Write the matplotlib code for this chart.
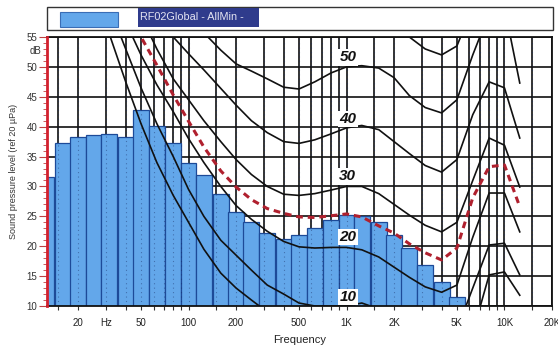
import matplotlib
matplotlib.use("Agg")
import matplotlib.pyplot as plt
from matplotlib.patches import Rectangle

plt.rcParams['font.family'] = ['Liberation Sans Narrow', 'Liberation Sans', 'DejaVu Sans']

# 1/3-octave band spectrum (dB re 20 uPa)
band_centres = [12.5, 16, 20, 25, 31.5, 40, 50, 63, 80, 100, 125, 160, 200, 250,
                315, 400, 500, 630, 800, 1000, 1250, 1600, 2000, 2500, 3150, 4000, 5000]
band_levels = [31.6, 37.3, 38.3, 38.6, 38.8, 38.2, 42.8, 40.1, 37.3, 34.0, 31.9, 28.7,
               25.8, 24.1, 22.2, 21.2, 21.9, 23.0, 24.4, 25.2, 25.0, 24.0, 21.9, 19.7,
               16.9, 14.0, 11.5]

# equal-loudness contours, sampled at 1/3-octave centres
contour_freqs = [12.5, 16, 20, 25, 31.5, 40, 50, 63, 80, 100, 125, 160, 200, 250, 315,
                 400, 500, 630, 800, 1000, 1250, 1600, 2000, 2500, 3150, 4000, 5000,
                 6300, 8000, 10000, 12500]
threshold = [88, 78, 70, 62, 55.5, 47.5, 40.5, 34, 28.5, 24, 19.5, 15.5, 13, 11, 9,
             7.5, 6.5, 5.5, 5, 4.5, 4.5, 3.5, 0.5, -3, -6, -7.5, -2.5, 5.5, 15.2, 15.7, 11.8]
phon_10 = [95, 85, 76, 68, 60, 53, 46.5, 40.5, 35, 29.5, 25, 21, 18.5, 16, 13.5, 12,
           10.5, 10, 10, 10, 10.5, 9.5, 7, 4, 2, 2, 6, 13, 20.2, 20.5, 15.2]
phon_20 = [100, 90, 82, 73, 65, 57.5, 52, 47, 42.5, 38, 34, 30, 26.8, 24.5, 22.5, 20.8,
           19.9, 19.7, 19.8, 19.8, 19.4, 18.2, 16.5, 14.8, 13.2, 12.3, 13.5, 21.5, 28.9,
           28.9, 22.4]
phon_25 = [82, 77.5, 73, 68.5, 64, 59.4, 55, 50.3, 45.3, 40.9, 36.6, 32.6, 29.9, 27.8,
           26.3, 25.5, 24.9, 24.8, 25.1, 25.4, 24.9, 23.4, 22.2, 20.4, 18.9, 17.7, 19.7,
           28.1, 33.3, 33.6, 26.6]
phon_30 = [105, 96, 88, 80, 72, 65, 58.5, 53, 48, 44.5, 41, 37.5, 34.5, 32, 30, 28.7,
           28.5, 28.8, 29.4, 30, 30, 28.8, 27, 25.2, 23.5, 22.4, 24, 31, 38.1, 36.9, 29.9]
phon_40 = [100, 90, 80, 72, 67, 63, 60, 57.5, 55, 52.2, 49.5, 46.4, 43.6, 41, 39, 37.5,
           37.2, 37.8, 38.8, 39.8, 40.2, 39.5, 37.5, 35.5, 33.5, 32.4, 34.5, 42, 47.5,
           46.5, 38.1]
phon_50 = [110, 100, 90, 82, 76, 71, 67, 64, 61, 58.3, 55.7, 52.8, 50.5, 49.3, 48, 46.6,
           46.3, 47.5, 49, 50, 50.2, 49.8, 48.2, 45.2, 43.2, 42.3, 44.5, 52, 59, 60, 47.3]
phon_60 = [115, 105, 97, 90, 84, 79, 75, 71, 68, 65.5, 63, 61, 59.5, 58.5, 57.8, 57.2,
           57, 57.5, 58.8, 60, 60.2, 59.8, 58, 55, 53, 52, 53.5, 60, 68, 69, 57]
contour_labels = ['50', '40', '30', '20', '10']
contour_label_levels = [51.6, 41.3, 31.7, 21.5, 11.5]

# frequency axis ticks
x_ticks = [15, 20, 30, 40, 50, 60, 70, 80, 90, 100, 150, 200, 300, 400, 500, 600, 700,
           800, 900, 1000, 1500, 2000, 3000, 4000, 5000, 6000, 7000, 8000, 9000, 10000,
           15000, 20000]
x_tick_labels = {20: '20', 30: 'Hz', 50: '50', 100: '100', 200: '200', 500: '500',
                 1000: '1K', 2000: '2K', 5000: '5K', 10000: '10K', 20000: '20K'}
y_ticks = [10, 15, 20, 25, 30, 35, 40, 45, 50, 55]

bar_color = '#63a7ea'
bar_edge = '#1d4a98'

fig = plt.figure(figsize=(5.58, 3.45), dpi=100)
ax = fig.add_axes([47 / 558, 1 - 306 / 345, 505 / 558, 269 / 345])

ax.set_xscale('log')
ax.set_xlim(12.7, 20000)
ax.set_ylim(10, 55)

# grid: solid behind the bars, faint dotted trace showing through them
for xv in x_ticks:
    ax.axvline(xv, color='#111111', lw=1.2, zorder=1)
    ax.axvline(xv, color='#1a2f66', lw=0.8, ls=(0, (1, 3)), alpha=0.45, zorder=2.5)
for yv in y_ticks:
    ax.axhline(yv, color='#111111', lw=1.2, zorder=1)

# spectrum bars (1/3-octave wide)
k = 2 ** (1 / 6)
lefts = [f / k for f in band_centres]
widths = [f * k - f / k for f in band_centres]
ax.bar(lefts, band_levels, width=widths, align='edge', bottom=0,
       color=bar_color, edgecolor=bar_edge, linewidth=0.9, zorder=2)

# contours
for vals in [threshold, phon_10, phon_20, phon_30, phon_40, phon_50, phon_60]:
    ax.plot(contour_freqs, vals, color='#111111', lw=1.2, zorder=3)
ax.plot(contour_freqs, phon_25, color='#b0202e', lw=2.2, ls=(0, (2.2, 1.6)), zorder=4)

for lab, lev in zip(contour_labels, contour_label_levels):
    ax.text(1020, lev, lab, ha='center', va='center', fontsize=11,
            fontweight='bold', fontstyle='italic', family=['Liberation Sans', 'DejaVu Sans'],
            color='#111111', zorder=5,
            bbox=dict(boxstyle='square,pad=0.08', fc='white', ec='none'))

# axes styling
for s in ['top', 'right', 'bottom']:
    ax.spines[s].set_color('#111111')
    ax.spines[s].set_linewidth(1.3)
ax.spines['left'].set_color('#d3202e')
ax.spines['left'].set_linewidth(2.0)
ax.spines['left'].set_zorder(6)

ax.set_xticks(x_ticks)
ax.set_xticklabels([x_tick_labels.get(v, '') for v in x_ticks])
ax.xaxis.set_minor_locator(matplotlib.ticker.NullLocator())
ax.tick_params(axis='x', which='major', length=3, width=0.8, color='#333333',
               labelsize=7, labelcolor='#222222', pad=6)

ax.set_yticks(y_ticks)
ax.set_yticks(range(10, 56), minor=True)
ax.set_yticklabels([str(v) for v in y_ticks])
ax.tick_params(axis='y', which='major', length=6, width=0.8, color='#c04040',
               labelsize=7, labelcolor='#333333', pad=1)
ax.tick_params(axis='y', which='minor', length=3, width=0.6, color='#c04040')
ax.text(-0.012, 52.7, 'dB', transform=ax.get_yaxis_transform(), ha='right',
        va='center', fontsize=7, color='#333333')

ax.set_ylabel('Sound pressure level (ref 20 µPa)', fontsize=6.5, color='#333333',
              labelpad=6)
ax.set_xlabel('Frequency', fontsize=8, color='#222222', labelpad=5)

# legend strip
fig.patches.append(Rectangle((47 / 558, 1 - 30 / 345), 506 / 558, 23 / 345,
                             transform=fig.transFigure, fc='white', ec='#333333',
                             lw=1.0))
fig.patches.append(Rectangle((60 / 558, 1 - 27 / 345), 58 / 558, 15 / 345,
                             transform=fig.transFigure, fc=bar_color, ec='#3a6db5',
                             lw=0.8))
fig.patches.append(Rectangle((138 / 558, 1 - 27 / 345), 121 / 558, 19 / 345,
                             transform=fig.transFigure, fc='#2f3b8c', ec='none'))
fig.text(140 / 558, 1 - 17.5 / 345, 'RF02Global - AllMin -', ha='left', va='center',
         fontsize=7.8, color='#e4e4f2')

fig.savefig('out.png', dpi=100)
